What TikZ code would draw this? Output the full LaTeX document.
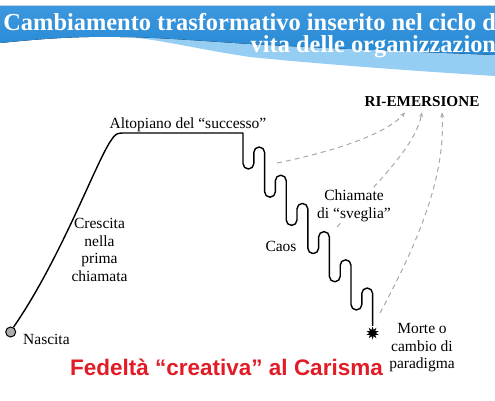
\documentclass[tikz,border=0pt]{standalone}
\usepackage{fontspec}
\setmainfont{Liberation Serif}
\newfontfamily\arialfont{Liberation Sans}
\usetikzlibrary{shapes.geometric,arrows.meta}
\definecolor{bandblue}{RGB}{38,136,212}
\definecolor{bandtop}{RGB}{60,152,222}
\definecolor{bandlight}{RGB}{150,205,242}
\definecolor{carisma}{RGB}{226,28,38}
\definecolor{callgray}{RGB}{168,168,168}
\tikzset{
	curve/.style={line width=1.4pt, line join=round},
	lbl/.style={font=\fontsize{15.5}{17.5}\selectfont, inner sep=0pt, align=center},
	titolo/.style={font=\fontsize{24.4}{26}\selectfont\bfseries, text=white, inner sep=0pt, anchor=base east},
	chiamata/.style={callgray, line width=1pt, dash pattern=on 5pt off 4pt, -{Stealth[length=5pt,width=4pt]}},
}
\begin{document}
\begin{tikzpicture}[x=1pt,y=1pt]
			\useasboundingbox (0,0) rectangle (495,400);
			\clip (0,0) rectangle (495,400);
			\fill[bandlight] (0,394) -- (495,394) -- (495,324) .. controls (400,330) and (320,336) .. (250,343) .. controls (190,352) and (150,363) .. (120,363) .. controls (70,364) and (30,360) .. (0,357) -- cycle;
			\fill[top color=bandtop, bottom color=bandblue] (0,394) -- (495,394) -- (495,345) .. controls (400,349) and (320,352) .. (250,356) .. controls (190,360) and (150,363) .. (120,363) .. controls (70,364) and (30,360) .. (0,357) -- cycle;
			\node[titolo] (titolo1) at (503,370) {Cambiamento trasformativo inserito nel ciclo di};
			\node[titolo] (titolo2) at (503,347.3) {vita delle organizzazioni};
			\node[draw, circle, fill=gray!65, line width=1pt, minimum size=10pt, inner sep=0pt] (nascita) at (10.7,68) {};
			\node[star, star points=10, star point ratio=2, fill=black, minimum size=13pt, inner sep=0pt] (morte) at (372.6,67) {};
			\draw[curve] (nascita.60) .. controls (60,140) and (95,235) .. (110,258) .. controls (116,267) .. (126,267) -- (243,267)
			\foreach \k in {0,...,5}{
				-- ({243+21.6*\k},{236.4-28.2*\k}) arc[start angle=180, end angle=360, radius=5.4]
				-- ++(0,11.2) arc[start angle=180, end angle=0, radius=5.4]
			} -- (morte);
			\node[lbl, font=\fontsize{15.2}{17.5}\selectfont\bfseries, inner sep=6pt, anchor=base] (riemersione) at (422,294) {RI-EMERSIONE};
			\coordinate (sveglia1) at (277,237);
			\coordinate (sveglia2) at (337,173);
			\coordinate (sveglia3) at (380,87);
			\draw[chiamata] (sveglia1) .. controls (350,252) and (390,270) .. ([xshift=-17pt]riemersione.south);
			\draw[chiamata] (sveglia2) .. controls (385,225) and (415,255) .. (riemersione.south);
			\draw[chiamata] (sveglia3) .. controls (425,170) and (445,230) .. ([xshift=20pt]riemersione.south);
			\node[lbl, anchor=base] (altopiano) at (188,272) {Altopiano del “successo”};
			\node[lbl] (crescita) at (99.5,150) {Crescita\\nella\\prima\\chiamata};
			\node[lbl, fill=white, inner sep=1pt] (chiamate) at (354,194) {Chiamate\\di “sveglia”};
			\node[lbl, anchor=base] (caos) at (281,149) {Caos};
			\node[lbl] (paradigma) at (422,52) {Morte o\\cambio di\\paradigma};
			\node[lbl, anchor=base west] (nascitatesto) at (23,56) {Nascita};
			\node[font=\fontsize{22.5}{24}\selectfont\arialfont\bfseries, text=carisma, inner sep=0pt, anchor=base] (carisma) at (226.5,25) {Fedeltà “creativa” al Carisma};
\end{tikzpicture}
\end{document}
